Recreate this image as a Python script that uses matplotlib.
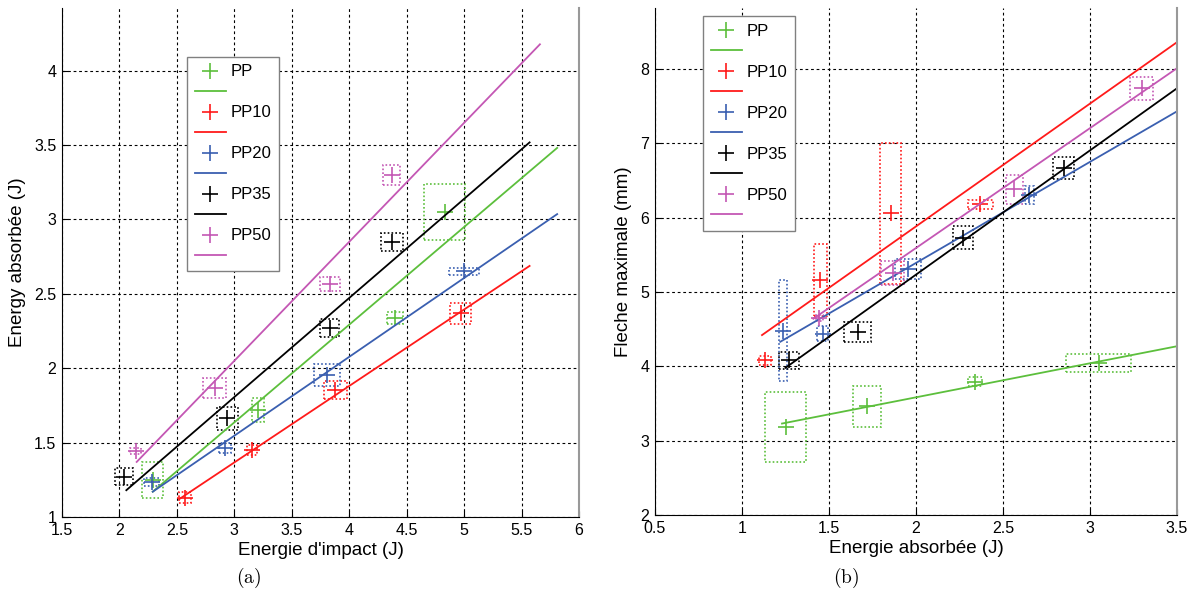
import matplotlib
matplotlib.use('Agg')
import matplotlib.pyplot as plt
from matplotlib.patches import Rectangle

names = ['PP', 'PP10', 'PP20', 'PP35', 'PP50']
colors = ['#5cbf3c', '#ff1a1a', '#3a5fb0', 'black', '#c457b4']

# energie d'impact (J)
impact = [
    [2.29, 3.21, 4.40, 4.83],
    [2.57, 3.15, 3.88, 4.97],
    [2.28, 2.92, 3.81, 5.00],
    [2.04, 2.94, 3.83, 4.37],
    [2.14, 2.83, 3.83, 4.37],
]
impact_err = [
    [0.093, 0.052, 0.067, 0.18],
    [0.05, 0.043, 0.097, 0.09],
    [0.062, 0.055, 0.113, 0.13],
    [0.08, 0.09, 0.08, 0.094],
    [0.05, 0.10, 0.087, 0.075],
]
# energie absorbee (J)
absorbed = [
    [1.25, 1.72, 2.34, 3.05],
    [1.13, 1.45, 1.855, 2.37],
    [1.235, 1.463, 1.955, 2.65],
    [1.27, 1.664, 2.27, 2.85],
    [1.445, 1.866, 2.566, 3.297],
]
absorbed_err = [
    [0.12, 0.08, 0.04, 0.186],
    [0.035, 0.036, 0.06, 0.07],
    [0.025, 0.034, 0.073, 0.026],
    [0.057, 0.078, 0.06, 0.06],
    [0.02, 0.066, 0.047, 0.065],
]
# fleche maximale (mm)
deflection = [
    [3.18, 3.46, 3.79, 4.045],
    [4.08, 5.16, 6.06, 6.18],
    [4.48, 4.44, 5.31, 6.30],
    [4.08, 4.46, 5.73, 6.67],
    [4.655, 5.256, 6.38, 7.74],
]
deflection_err = [
    [0.47, 0.27, 0.06, 0.12],
    [0.06, 0.49, 0.95, 0.06],
    [0.68, 0.10, 0.13, 0.12],
    [0.11, 0.13, 0.157, 0.15],
    [0.04, 0.16, 0.19, 0.157],
]

# linear fits (end points)
fit_a_x = [[2.29, 5.81], [2.52, 5.57], [2.29, 5.81], [2.06, 5.57], [2.15, 5.66]]
fit_a_y = [[1.17, 3.48], [1.12, 2.687], [1.17, 3.035], [1.18, 3.517], [1.37, 4.176]]
fit_b_x = [[1.23, 3.5], [1.115, 3.5], [1.22, 3.5], [1.25, 3.5], [1.41, 3.5]]
fit_b_y = [[3.23, 4.27], [4.42, 8.36], [4.33, 7.43], [3.98, 7.74], [4.64, 8.01]]

a_xticks = [1.5, 2, 2.5, 3, 3.5, 4, 4.5, 5, 5.5, 6]
a_yticks = [1, 1.5, 2, 2.5, 3, 3.5, 4]
b_xticks = [0.5, 1, 1.5, 2, 2.5, 3, 3.5]
b_yticks = [2, 3, 4, 5, 6, 7, 8]


def fmt(v):
    return '{:g}'.format(v)


def draw(ax, xs, xerrs, ys, yerrs, fx, fy):
    handles = []
    labels = []
    for i in range(len(names)):
        c = colors[i]
        for x, y, ex, ey in zip(xs[i], ys[i], xerrs[i], yerrs[i]):
            ax.add_patch(Rectangle((x - ex, y - ey), 2 * ex, 2 * ey, fill=False,
                                   edgecolor=c, linestyle=(0, (1, 1.3)), linewidth=1.2))
        p, = ax.plot(xs[i], ys[i], '+', color=c, markersize=11, markeredgewidth=1.2)
        l, = ax.plot(fx[i], fy[i], '-', color=c, linewidth=1.3)
        handles += [p, l]
        labels += [names[i], '']
    return handles, labels


def style(ax, xticks, yticks, xlim, ylim, xlabel, ylabel):
    ax.set_xlim(xlim)
    ax.set_ylim(ylim)
    ax.set_xticks(xticks)
    ax.set_yticks(yticks)
    ax.set_xticklabels([fmt(v) for v in xticks])
    ax.set_yticklabels([fmt(v) for v in yticks])
    ax.grid(True, color='black', linestyle=(0, (2.5, 2.5)), linewidth=0.8)
    ax.tick_params(direction='in', length=4, labelsize=11.5, pad=4)
    ax.spines['top'].set_visible(False)
    ax.spines['right'].set_color('#999999')
    ax.spines['right'].set_linewidth(1.5)
    ax.set_xlabel(xlabel, fontsize=13.5, labelpad=3)
    ax.set_ylabel(ylabel, fontsize=13.5, labelpad=6)


def main():
    plt.rcParams['font.family'] = ['Liberation Sans', 'DejaVu Sans']
    plt.rcParams['mathtext.fontset'] = 'cm'
    plt.rc('axes', axisbelow=True)

    fig = plt.figure(figsize=(11.97, 5.92), dpi=100)
    ax1 = fig.add_axes([0.0518, 0.1267, 0.4319, 0.8598])
    ax2 = fig.add_axes([0.5472, 0.1301, 0.4361, 0.8564])

    leg_opts = dict(loc='upper left', borderaxespad=0, fontsize=12, labelspacing=0.33,
                    handlelength=1.9, handletextpad=0.25, borderpad=0.45,
                    fancybox=False, framealpha=1, edgecolor='#808080')

    h, lab = draw(ax1, impact, impact_err, absorbed, absorbed_err, fit_a_x, fit_a_y)
    style(ax1, a_xticks, a_yticks, (1.5, 6), (1, 4.42),
          "Energie d'impact (J)", 'Energy absorbée (J)')
    ax1.legend(h, lab, bbox_to_anchor=(0.242, 0.904), **leg_opts)

    h, lab = draw(ax2, absorbed, absorbed_err, deflection, deflection_err, fit_b_x, fit_b_y)
    style(ax2, b_xticks, b_yticks, (0.5, 3.5), (2, 8.82),
          'Energie absorbée (J)', 'Fleche maximale (mm)')
    ax2.legend(h, lab, bbox_to_anchor=(0.092, 0.984), **leg_opts)

    fig.text(249 / 1197, 1 - 578 / 592, r'$\mathrm{(a)}$', fontsize=14, ha='center', va='center')
    fig.text(846 / 1197, 1 - 578 / 592, r'$\mathrm{(b)}$', fontsize=14, ha='center', va='center')

    fig.savefig('out.png', dpi=100)


if __name__ == '__main__':
    main()
